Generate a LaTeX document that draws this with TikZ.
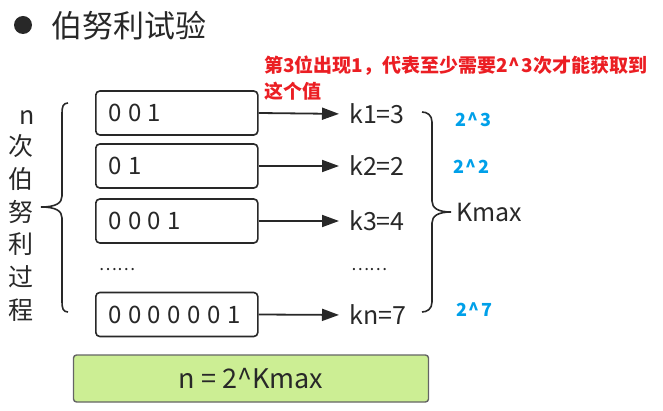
\documentclass[tikz,border=0pt]{standalone}
\usepackage{fontspec}
\setmainfont{Noto Sans CJK SC}
\usetikzlibrary{arrows.meta}
\definecolor{redtxt}{RGB}{235,30,35}
\definecolor{bluetxt}{RGB}{0,160,233}
\definecolor{greenfill}{RGB}{204,238,148}
\definecolor{ink}{RGB}{40,40,40}
\newcommand\bg{\kern6.5pt}
\tikzset{
  bitbox/.style={draw=ink, line width=1.6pt, rounded corners=4pt, minimum height=44pt,
    text width=137pt, inner xsep=12.5pt, align=left, text=ink,
    font=\fontsize{24}{28}\selectfont},
  klabel/.style={anchor=west, inner sep=0pt, text=ink, font=\fontsize{25}{30}\selectfont},
  flow/.style={draw=ink, line width=1.8pt, -{Triangle[length=17pt,width=12pt]}, shorten >=10pt},
  powlabel/.style={anchor=west, inner sep=0pt, text=bluetxt, font=\bfseries\fontsize{18}{20}\selectfont},
  dotsl/.style={inner sep=0pt, text=ink, font=\fontsize{17}{20}\selectfont},
  bracestyle/.style={draw=ink, line width=1.6pt},
  sidetext/.style={inner sep=0pt, align=center, text=ink, font=\fontsize{25}{32.8}\selectfont},
}
\begin{document}
\begin{tikzpicture}[x=1pt,y=-1pt]
\useasboundingbox (0,0) rectangle (663,411);
% title
\fill[ink] (23,25) circle (9);
\node[anchor=west, inner sep=0pt, text=ink, font=\fontsize{31}{34}\selectfont] (title) at (51,26) {伯努利试验};
% red note
\node[anchor=north west, inner sep=0pt, align=left, text=redtxt, font=\bfseries\fontsize{19}{26}\selectfont] (note) at (264,56) {第3位出现1，代表至少需要2\kern1pt\^{}\kern1pt3次才能获取到\\这个值};
% bit boxes
\node[bitbox, anchor=west] (b1) at (95,113) {0\bg0\bg1};
\node[bitbox, anchor=west] (b2) at (95,166) {0\bg1};
\node[bitbox, anchor=west] (b3) at (95,221) {0\bg0\bg0\bg1};
\node[bitbox, anchor=west] (b4) at (95,314.5) {0\bg0\bg0\bg0\bg0\bg0\bg1};
% k labels
\node[klabel] (k1) at (349,114) {k1=3};
\node[klabel] (k2) at (349,166) {k2=2};
\node[klabel] (k3) at (349,221) {k3=4};
\node[klabel] (k4) at (349,315) {kn=7};
\draw[flow] (b1.east) -- (k1.west);
\draw[flow] (b2.east) -- (k2.west);
\draw[flow] (b3.east) -- (k3.west);
\draw[flow] (b4.east) -- (k4.west);
% dots
\node[dotsl] (dl) at (117,270) {……};
\node[dotsl] (dr) at (369,270) {……};
% left label
\node[sidetext, anchor=base] (leftn) at (27,125) {n};
\node[sidetext] (lefttxt) at (21,228) {次\\伯\\努\\利\\过\\程};
% left brace
\draw[bracestyle] (68,103) .. controls (63,103) and (62,107) .. (62,113) -- (62,196)
  .. controls (62,203) and (56,207) .. (41,207)
  .. controls (56,207) and (62,211) .. (62,218) -- (62,302)
  .. controls (62,308) and (63,312) .. (68,312);
% right brace
\draw[bracestyle] (422,112) .. controls (427,112) and (432,115) .. (432,122) -- (432,201)
  .. controls (432,208) and (438,212) .. (451,212)
  .. controls (438,212) and (432,216) .. (432,223) -- (432,302)
  .. controls (432,309) and (427,312) .. (422,312);
\node[klabel] (kmax) at (456,213) {Kmax};
% blue powers
\node[powlabel] (p1) at (455,120) {2\kern1.5pt\^{}\kern1.5pt3};
\node[powlabel] (p2) at (453,167) {2\kern1.5pt\^{}\kern1.5pt2};
\node[powlabel] (p3) at (456,310) {2\kern1.5pt\^{}\kern1.5pt7};
% formula box
\node[draw={rgb,255:red,100;green,100;blue,100}, fill=greenfill, line width=1.4pt, rounded corners=3pt,
  minimum width=355pt, minimum height=47pt, text=ink, font=\fontsize{27}{30}\selectfont] (formula) at (251,378.5) {n = 2\^{}Kmax};
\end{tikzpicture}
\end{document}
